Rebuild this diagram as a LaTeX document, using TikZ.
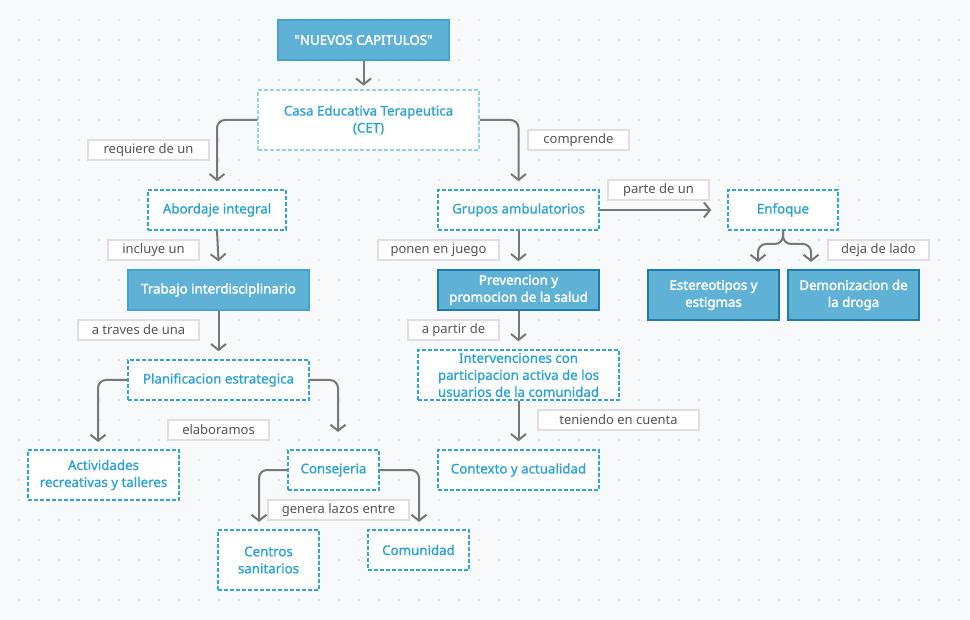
\documentclass[tikz,border=0pt]{standalone}
\usepackage{fontspec}
\setmainfont{Noto Sans}
\newfontfamily\topicfont[FakeBold=1]{Noto Sans}
\newfontfamily\boxfont[FakeBold=2.2,Ligatures=TeXOff]{Noto Sans}
\usetikzlibrary{arrows.meta}
\tikzset{
    every picture/.style={
        line width=1.5pt
    },
    % Style for filled topic boxes
    main box/.style={
        fill=mainFill, draw=mainEdge, line width=1.5pt,
        text=white, font=\fontsize{13.3}{17}\selectfont\boxfont,
        align=center, inner sep=0pt
    },
    dark box/.style={main box, draw=darkEdge},
    % Style for dashed topic boxes
    topic box/.style={
        fill=white, draw=topicEdge, dashed, dash pattern=on 4pt off 2pt,
        line width=1.5pt, text=topicText,
        font=\fontsize{13.3}{17}\selectfont\topicfont, align=center, inner sep=0pt
    },
    % Style for labels on the links
    link label/.style={
        fill=white, draw=labelEdge, line width=1.5pt, text=labelText,
        font=\fontsize{13}{15}\selectfont, inner sep=0pt
    },
    link arrow/.style={
        draw=linkGray, line width=2pt, rounded corners=8pt,
        -{Straight Barb[length=6pt,width=15pt,line width=2pt]}
    }
}
\definecolor{paper}{RGB}{248,249,251}
\definecolor{dotGray}{RGB}{218,221,226}
\definecolor{mainFill}{RGB}{96,177,214}
\definecolor{mainEdge}{RGB}{70,162,206}
\definecolor{darkEdge}{RGB}{28,124,172}
\definecolor{topicEdge}{RGB}{46,168,220}
\definecolor{lightEdge}{RGB}{142,212,236}
\definecolor{topicText}{RGB}{40,163,216}
\definecolor{labelEdge}{RGB}{226,222,223}
\definecolor{labelText}{RGB}{85,85,85}
\definecolor{linkGray}{RGB}{120,120,120}

\begin{document}
\begin{tikzpicture}[x=1pt,y=-1pt]

% Set the canvas size
\fill[paper] (0,0) rectangle (970,620);
\path[use as bounding box] (0,0) rectangle (970,620);

% dotted grid
\foreach \i in {0,...,48}{
  \foreach \j in {1,...,30}{
    \fill[dotGray] (20*\i-1,20*\j) circle (1.1pt);
  }
}

% Topic boxes
\node[main box, minimum width=171, minimum height=40] (nuevos) at (363.5,40) {"NUEVOS CAPITULOS"};
\node[topic box, draw=lightEdge, minimum width=221, minimum height=60] (cet) at (368.5,120) {Casa Educativa Terapeutica\\(CET)};

\node[topic box, minimum width=138, minimum height=40] (abordaje) at (217,210) {Abordaje integral};
\node[topic box, minimum width=161, minimum height=40] (grupos) at (518.5,210) {Grupos ambulatorios};
\node[topic box, minimum width=110, minimum height=40] (enfoque) at (783,210) {Enfoque};

\node[main box, minimum width=181, minimum height=40] (trabajo) at (218.5,290) {Trabajo interdisciplinario};
\node[dark box, minimum width=161, minimum height=40] (prevencion) at (518.5,290) {Prevencion y\\promocion de la salud};
\node[dark box, minimum width=131, minimum height=50] (estereotipos) at (713.5,295) {Estereotipos y\\estigmas};
\node[dark box, minimum width=131, minimum height=50] (demonizacion) at (853.5,295) {Demonizacion de\\la droga};

\node[topic box, minimum width=181, minimum height=40] (planificacion) at (218.5,380) {Planificacion estrategica};
\node[topic box, minimum width=201, minimum height=50] (intervenciones) at (518.5,375) {Intervenciones con\\participacion activa de los\\usuarios de la comunidad};

\node[topic box, minimum width=151, minimum height=50] (actividades) at (103.5,475) {Actividades\\recreativas y talleres};
\node[topic box, minimum width=91, minimum height=40] (consejeria) at (333.5,470) {Consejeria};
\node[topic box, minimum width=161, minimum height=40] (contexto) at (518.5,470) {Contexto y actualidad};

\node[topic box, minimum width=101, minimum height=60] (centros) at (268.5,560) {Centros\\sanitarios};
\node[topic box, minimum width=101, minimum height=40] (comunidad) at (418.5,550) {Comunidad};

% Link labels
\node[link label, minimum width=121, minimum height=20] (requiere) at (148.5,150) {requiere de un};
\node[link label, minimum width=101, minimum height=20] (comprende) at (578.5,140) {comprende};
\node[link label, minimum width=101, minimum height=20] (parte) at (658.5,190) {parte de un};
\node[link label, minimum width=91, minimum height=20] (incluye) at (153.5,250) {incluye un};
\node[link label, minimum width=121, minimum height=20] (ponen) at (438.5,250) {ponen en juego};
\node[link label, minimum width=101, minimum height=20] (deja) at (878.5,250) {deja de lado};
\node[link label, minimum width=121, minimum height=20] (traves) at (138.5,330) {a traves de una};
\node[link label, minimum width=91, minimum height=20] (apartir) at (453.5,330) {a partir de};
\node[link label, minimum width=101, minimum height=20] (elaboramos) at (218.5,430) {elaboramos};
\node[link label, minimum width=161, minimum height=20] (teniendo) at (618.5,420) {teniendo en cuenta};
\node[link label, minimum width=141, minimum height=20] (genera) at (338.5,510) {genera lazos entre};

% Links
\draw[link arrow] (nuevos.south) -- ++(0,25);
\draw[link arrow] (cet.west) -| ([yshift=8pt]abordaje.north);
\draw[link arrow] (cet.east) -| ([yshift=8pt]grupos.north);
\draw[link arrow] (abordaje.south) -- ([yshift=8pt]trabajo.north);
\draw[link arrow] (grupos.east) -- ([xshift=-16pt]enfoque.west);
\draw[link arrow] (grupos.south) -- ([yshift=8pt]prevencion.north);
\draw[link arrow] (enfoque.south) |- (758,244) -- (758,262);
\draw[link arrow] (enfoque.south) |- (811,244) -- (811,262);
\draw[link arrow] (trabajo.south) -- ([yshift=8pt]planificacion.north);
\draw[link arrow] (planificacion.west) -| (98,442);
\draw[link arrow] (planificacion.east) -| (338,432);
\draw[link arrow] (prevencion.south) -- ([yshift=8pt]intervenciones.north);
\draw[link arrow] (intervenciones.south) -- ([yshift=8pt]contexto.north);
\draw[link arrow] (consejeria.west) -| (259,522);
\draw[link arrow] (consejeria.east) -| (419,522);

\end{tikzpicture}
\end{document}
